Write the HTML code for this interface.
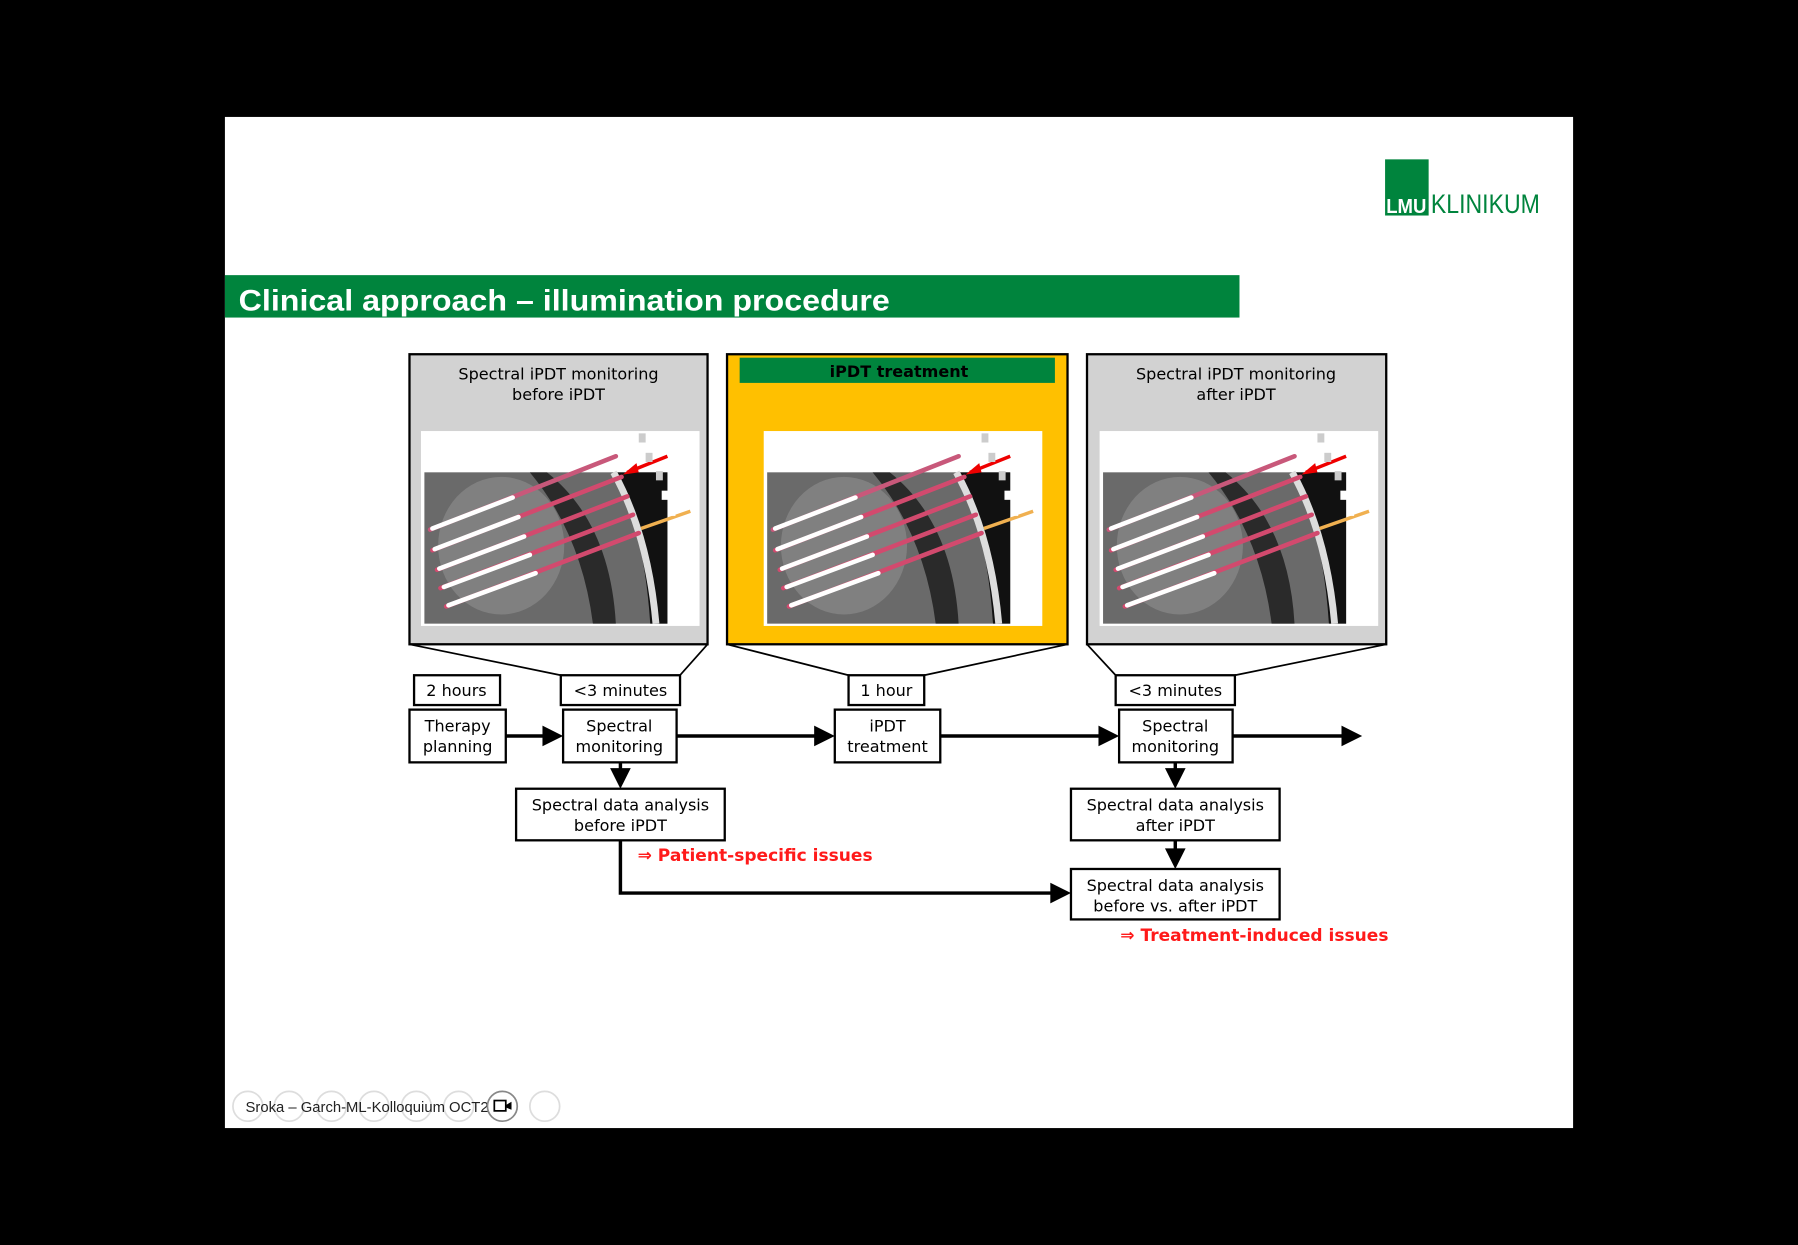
<!DOCTYPE html>
<html><head><meta charset="utf-8"><style>
html,body{margin:0;padding:0;background:#000;}
svg{display:block;}
.d{font-family:"DejaVu Sans","Liberation Sans",sans-serif;}
.l{font-family:"Liberation Sans",sans-serif;}
</style></head><body>
<svg width="1798" height="1245" viewBox="0 0 1568 1086" xmlns="http://www.w3.org/2000/svg">
<defs>
<g id="img">
<rect x="0" y="0" width="243" height="170" fill="#fff"/>
<rect x="3" y="36" width="212" height="132" fill="#6a6a6a"/>
<ellipse cx="70" cy="100" rx="55" ry="60" fill="#8a8a8a" opacity="0.7"/>
<path d="M110,36 Q165,80 170,168 L150,168 Q140,90 95,36 z" fill="#2a2a2a"/>
<path d="M170,36 L215,36 L215,168 L200,168 Q195,90 170,36 z" fill="#111"/>
<path d="M168,36 Q198,90 205,168" stroke="#ddd" stroke-width="6" fill="none"/>
<g stroke-width="4" stroke-linecap="round">
<line x1="8" y1="86" x2="170" y2="22" stroke="#c8587a"/>
<line x1="10" y1="104" x2="175" y2="40" stroke="#d24a6e"/>
<line x1="14" y1="121" x2="180" y2="57" stroke="#d24a6e"/>
<line x1="17" y1="137" x2="185" y2="73" stroke="#d24a6e"/>
<line x1="22" y1="153" x2="190" y2="89" stroke="#d24a6e"/>
<line x1="10" y1="85" x2="80" y2="58" stroke="#fff"/>
<line x1="12" y1="103" x2="85" y2="75" stroke="#fff"/>
<line x1="16" y1="120" x2="90" y2="92" stroke="#fff"/>
<line x1="20" y1="136" x2="95" y2="108" stroke="#fff"/>
<line x1="24" y1="152" x2="100" y2="124" stroke="#fff"/>
</g>
<line x1="215" y1="22" x2="180" y2="36" stroke="#e00" stroke-width="3"/>
<path d="M176,38 L188,28 L190,36 z" fill="#e00"/>
<line x1="192" y1="85" x2="235" y2="70" stroke="#f0b050" stroke-width="3"/>
<rect x="190" y="2" width="6" height="8" fill="#ccc"/>
<rect x="196" y="19" width="6" height="8" fill="#ccc"/>
<rect x="205" y="35" width="6" height="8" fill="#ccc"/>
<rect x="210" y="52" width="6" height="8" fill="#fff"/>
<rect x="216" y="66" width="6" height="8" fill="#fff"/>
</g>
</defs>
<rect width="1568" height="1086" fill="#000"/>
<rect x="196" y="102" width="1176" height="882" fill="#fff"/>
<!-- logo -->
<rect x="1208" y="139" width="38" height="49" fill="#00843d"/>
<text class="l" x="1209" y="186" font-size="18" font-weight="bold" fill="#fff" textLength="35" lengthAdjust="spacingAndGlyphs">LMU</text>
<text class="l" x="1248" y="186" font-size="23" fill="#00843d" textLength="95" lengthAdjust="spacingAndGlyphs">KLINIKUM</text>
<!-- title -->
<rect x="196" y="240" width="885" height="37" fill="#00843d"/>
<text class="l" x="208" y="271" font-size="26" font-weight="bold" fill="#fff" textLength="568" lengthAdjust="spacingAndGlyphs">Clinical approach – illumination procedure</text>
<!-- panels -->
<g class="d">
<rect x="357" y="309" width="260" height="253" fill="#d2d2d2" stroke="#000" stroke-width="2"/>
<text x="487" y="331" font-size="14" text-anchor="middle">Spectral iPDT monitoring</text>
<text x="487" y="349" font-size="14" text-anchor="middle">before iPDT</text>
<use href="#img" x="367" y="376"/>
<rect x="634" y="309" width="297" height="253" fill="#ffc000" stroke="#000" stroke-width="2"/>
<rect x="645" y="312" width="275" height="22" fill="#00843d"/>
<text x="784" y="329" font-size="14" font-weight="bold" text-anchor="middle">iPDT treatment</text>
<use href="#img" x="666" y="376"/>
<rect x="948" y="309" width="261" height="253" fill="#d2d2d2" stroke="#000" stroke-width="2"/>
<text x="1078" y="331" font-size="14" text-anchor="middle">Spectral iPDT monitoring</text>
<text x="1078" y="349" font-size="14" text-anchor="middle">after iPDT</text>
<use href="#img" x="959" y="376"/>
</g>
<g stroke="#000" stroke-width="1.5" fill="none">
<line x1="357" y1="562" x2="489" y2="589"/><line x1="617" y1="562" x2="593" y2="589"/>
<line x1="634" y1="562" x2="740" y2="589"/><line x1="931" y1="562" x2="806" y2="589"/>
<line x1="948" y1="562" x2="973" y2="589"/><line x1="1209" y1="562" x2="1077" y2="589"/>
</g>
<g fill="#fff" stroke="#000" stroke-width="2">
<rect x="361" y="589" width="75" height="26"/>
<rect x="489" y="589" width="104" height="26"/>
<rect x="740" y="589" width="66" height="26"/>
<rect x="973" y="589" width="104" height="26"/>
<rect x="357" y="619" width="84" height="46"/>
<rect x="491" y="619" width="99" height="46"/>
<rect x="728" y="619" width="92" height="46"/>
<rect x="976" y="619" width="99" height="46"/>
<rect x="450" y="688" width="182" height="45"/>
<rect x="934" y="688" width="182" height="45"/>
<rect x="934" y="758" width="182" height="44"/>
</g>
<g class="d" font-size="14" text-anchor="middle">
<text x="398" y="607">2 hours</text>
<text x="541" y="607">&lt;3 minutes</text>
<text x="773" y="607">1 hour</text>
<text x="1025" y="607">&lt;3 minutes</text>
<text x="399" y="638">Therapy</text><text x="399" y="656">planning</text>
<text x="540" y="638">Spectral</text><text x="540" y="656">monitoring</text>
<text x="774" y="638">iPDT</text><text x="774" y="656">treatment</text>
<text x="1025" y="638">Spectral</text><text x="1025" y="656">monitoring</text>
<text x="541" y="707">Spectral data analysis</text><text x="541" y="725">before iPDT</text>
<text x="1025" y="707">Spectral data analysis</text><text x="1025" y="725">after iPDT</text>
<text x="1025" y="777">Spectral data analysis</text><text x="1025" y="795">before vs. after iPDT</text>
</g>
<g stroke="#000" stroke-width="3" fill="none">
<line x1="441" y1="642" x2="474" y2="642"/>
<line x1="590" y1="642" x2="711" y2="642"/>
<line x1="820" y1="642" x2="959" y2="642"/>
<line x1="1075" y1="642" x2="1171" y2="642"/>
<line x1="541" y1="665" x2="541" y2="672"/>
<line x1="1025" y1="665" x2="1025" y2="672"/>
<line x1="1025" y1="733" x2="1025" y2="742"/>
<polyline points="541,733 541,779 917,779"/>
</g>
<g fill="#000">
<path d="M491,642 L473,633 L473,651 z"/>
<path d="M728,642 L710,633 L710,651 z"/>
<path d="M976,642 L958,633 L958,651 z"/>
<path d="M1188,642 L1170,633 L1170,651 z"/>
<path d="M541,688 L532,670 L550,670 z"/>
<path d="M1025,688 L1016,670 L1034,670 z"/>
<path d="M1025,758 L1016,740 L1034,740 z"/>
<path d="M934,779 L916,770 L916,788 z"/>
</g>
<text class="d" x="556" y="751" font-size="15" font-weight="bold" fill="#ff1a1a" textLength="205" lengthAdjust="spacingAndGlyphs">⇒ Patient-specific issues</text>
<text class="d" x="977" y="821" font-size="15" font-weight="bold" fill="#ff1a1a" textLength="234" lengthAdjust="spacingAndGlyphs">⇒ Treatment-induced issues</text>
<g fill="none" stroke="#ddd" stroke-width="1.5">
<circle cx="216" cy="965" r="13"/><circle cx="252" cy="965" r="13"/><circle cx="289" cy="965" r="13"/>
<circle cx="326" cy="965" r="13"/><circle cx="363" cy="965" r="13"/><circle cx="400" cy="965" r="13"/>
<circle cx="475" cy="965" r="13"/>
</g>
<text class="l" x="214" y="970" font-size="13" fill="#222" textLength="212" lengthAdjust="spacingAndGlyphs">Sroka – Garch-ML-Kolloquium OCT2</text>
<circle cx="438" cy="965" r="13" fill="#fff" stroke="#888" stroke-width="1.5"/>
<rect x="431" y="960" width="10" height="9" fill="none" stroke="#000" stroke-width="1.5"/>
<path d="M441,964 L446,961 L446,968 L441,966 z" fill="#000"/>
</svg>
</body></html>
